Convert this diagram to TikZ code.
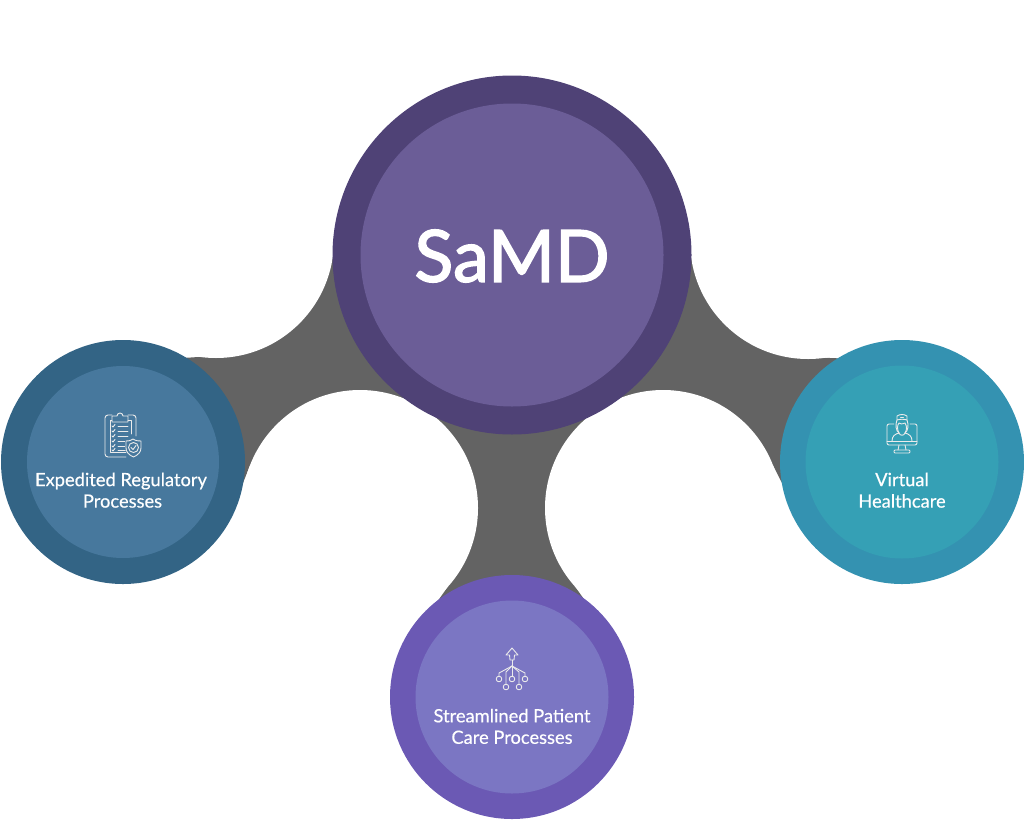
\documentclass[tikz,border=0pt]{standalone}
\usepackage{fontspec}
\setmainfont{Lato}
\newfontfamily\samdfont[FakeBold=2]{Lato}
\newfontfamily\labelfont[FakeBold=0.4]{Lato}
\definecolor{mainO}{HTML}{4F4276}
\definecolor{mainI}{HTML}{6B5D97}
\definecolor{blueO}{HTML}{336485}
\definecolor{blueI}{HTML}{47789D}
\definecolor{tealO}{HTML}{3492B1}
\definecolor{tealI}{HTML}{35A0B5}
\definecolor{purpO}{HTML}{6B59B4}
\definecolor{purpI}{HTML}{7B76C3}
\definecolor{hub}{HTML}{636363}
\tikzset{
  x=1pt,y=-1pt,
  disc/.style={circle,inner sep=0pt,outer sep=0pt,minimum size=#1},
  gap/.style={disc=236pt,fill=white},
  label/.style={text=white,font=\labelfont\fontsize{18.3}{21.5}\selectfont,align=center,inner sep=0pt},
  icon/.style={draw=white!92!black,line width=0.9pt,line join=round,line cap=round},
}
\begin{document}
\begin{tikzpicture}
\useasboundingbox (0,0) rectangle (1024,819);
\coordinate (cM) at (512,255);
\coordinate (cL) at (123,462);
\coordinate (cR) at (902,462);
\coordinate (cB) at (512,697);
\coordinate (wUL) at (216,240);
\coordinate (wLL) at (360,508);
\coordinate (wLR) at (663,508);
\coordinate (wUR) at (808,241);
\fill[hub] (cM) -- (wUL) -- (200,356.9) -- (183,358) -- (cL) -- (243,483) -- (250.1,465) -- (wLL)
  -- (447.7,587) -- (437,602) -- (cB) -- (586,602) -- (575.3,587) -- (wLR)
  -- (772.9,465) -- (782,483) -- (cR) -- (843,358.5) -- (825,357.8) -- (wUR) -- cycle;
\node[gap] (gapUL) at (wUL) {};
\node[gap] (gapLL) at (wLL) {};
\node[gap] (gapLR) at (wLR) {};
\node[gap] (gapUR) at (wUR) {};
\node[disc=359pt,fill=mainO] (mainOuter) at (cM) {};
\node[disc=303pt,fill=mainI] (mainInner) at (cM) {};
\node[disc=244pt,fill=blueO] (leftOuter) at (cL) {};
\node[disc=192pt,fill=blueI] (leftInner) at (cL) {};
\node[disc=244pt,fill=tealO] (rightOuter) at (cR) {};
\node[disc=193pt,fill=tealI] (rightInner) at (cR) {};
\node[disc=244pt,fill=purpO] (bottomOuter) at (cB) {};
\node[disc=193pt,fill=purpI] (bottomInner) at (cB) {};
\node[text=white,font=\samdfont\fontsize{72}{72}\selectfont,inner sep=0pt] (samd) at (512,256) {SaMD};
\node[label] (leftText) at (121,490.2) {Expedited Regulatory\\\hspace*{3pt}Processes};
\node[label] (rightText) at (902,490.2) {Virtual\\Healthcare};
\node[label] (bottomText) at (512,726.4) {Streamlined Patient\\Care Processes};
% clipboard icon
\begin{scope}[icon]
\draw (126,457) -- (108,457) arc[start angle=90,end angle=180,radius=3] -- (105,418) arc[start angle=180,end angle=270,radius=3] -- (112,415);
\draw (128,415) -- (133,415) arc[start angle=-90,end angle=0,radius=3] -- (136,436);
\draw (126,452) -- (110,452) -- (110,420) -- (112,420);
\draw (128,420) -- (131,420) -- (131,434);
\draw (112,422) -- (112,416) -- (117,416) arc[start angle=180,end angle=360,radius=3] -- (128,416) -- (128,422) -- cycle;
\foreach \yy in {426,431,436,441,446,450}{
  \draw (112,\yy) -- (113,\yy+1) -- (115,\yy-1.5);
  \draw (118,\yy) -- (128,\yy);
}
\fill[blueI] (133,439) .. controls (130,441) and (128,441) .. (125,441) -- (125,448) .. controls (125,452) and (129,455) .. (133,457) .. controls (137,455) and (142,452) .. (142,448) -- (142,441) .. controls (138,441) and (136,441) .. (133,439) -- cycle;
\draw (133,439) .. controls (130,441) and (128,441) .. (126,441) -- (126,448) .. controls (126,452) and (129,455) .. (133.5,457) .. controls (138,455) and (141,452) .. (141,448) -- (141,441) .. controls (139,441) and (136,441) .. (133,439) -- cycle;
\draw (133.5,447.5) circle[radius=5];
\draw (131,447.5) -- (133,449.5) -- (136,445.5);
% nurse icon
\draw (894,424) -- (889,424) arc[start angle=-90,end angle=-180,radius=2] -- (887,443) arc[start angle=180,end angle=90,radius=2] -- (915,445) arc[start angle=90,end angle=0,radius=2] -- (917,426) arc[start angle=0,end angle=-90,radius=2] -- (910,424);
\draw (887,441) -- (917,441);
\draw (899,445) -- (898,450) (905,445) -- (906,450);
\draw[rounded corners=1pt] (894,450) rectangle (910,453);
\draw (892,441) .. controls (892,436) and (895,434) .. (899,433) .. controls (900,436) and (904,436) .. (905,433) .. controls (909,434) and (912,436) .. (912,441);
\draw (897,420) .. controls (895,425) and (896,431) .. (899,433) (907,420) .. controls (909,425) and (908,431) .. (905,433);
\draw (899,433) .. controls (897,430) and (897,425) .. (899,423) .. controls (902,425) and (904,423) .. (905,423) .. controls (907,426) and (907,430) .. (905,433);
\draw (897,420) -- (897,416) .. controls (900,414) and (904,414) .. (907,416) -- (907,420) .. controls (904,419) and (900,419) .. (897,420) -- cycle;
\draw (900.5,417) -- (903.5,417);
% network icon
\draw (512,648) -- (518,655) -- (514.5,655) -- (514,660) -- (510,660) -- (509.5,655) -- (506,655) -- cycle;
\draw (512,660) -- (512,676.2);
\draw (512,666) -- (499,673) -- (499,676.2);
\draw (512,666) -- (525,673) -- (525,676.2);
\draw (512,666) -- (506,672) -- (506,684.2);
\draw (512,666) -- (519,672) -- (519,684.2);
\foreach \px/\py in {499/679,512/679,525/679,506/687,519/687}{
  \draw (\px,\py) circle[radius=2.8];
}
\end{scope}
\end{tikzpicture}
\end{document}
